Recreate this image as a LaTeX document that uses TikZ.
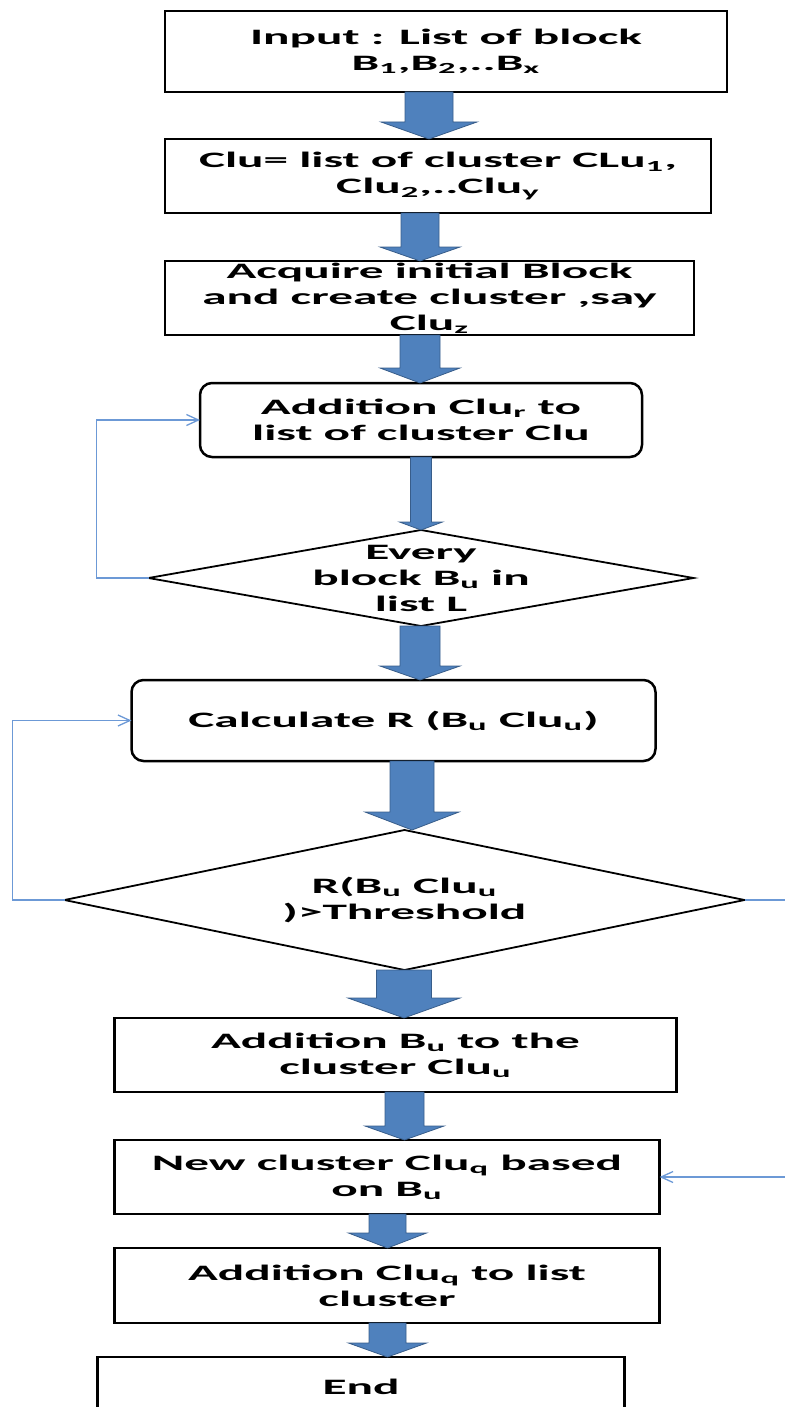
\documentclass[tikz,border=0pt]{standalone}
\usepackage{fontspec}
\setmainfont{Carlito}
\usepackage{graphicx}
\usetikzlibrary{positioning,shapes.geometric,calc,arrows.meta}

\definecolor{flowblue}{RGB}{79,129,189}
\definecolor{flowedge}{RGB}{56,93,138}
\definecolor{backblue}{RGB}{108,153,214}

\newcommand{\flowfont}{\fontsize{22}{26}\selectfont\bfseries}
\newcommand{\wide}[1]{\scalebox{2.24}[1]{#1}}

\begin{document}
\begin{tikzpicture}[x=1pt, y=-1pt,
  box/.style={draw, rectangle, line width=2.5pt, inner sep=0pt, outer sep=0pt, align=center, font=\flowfont},
  roundbox/.style={box, rounded corners=12pt},
  decision/.style={draw, diamond, line width=1.8pt, inner sep=0pt, outer sep=0pt},
  every label/.style={align=center, font=\flowfont},
  flow/.style={fill=flowblue, draw=flowedge, line width=0.8pt},
  back/.style={draw=backblue, line width=1.3pt, -{Straight Barb[length=12pt, width=11pt]}}]
  \useasboundingbox (0,0) rectangle (784,1407);

  \node[box, minimum width=562pt, minimum height=81pt] (input) at (446,51.5) {\wide{Input : List of block}\\\wide{B\textsubscript{1},B\textsubscript{2},..B\textsubscript{x}}};
  \node[box, minimum width=546pt, minimum height=74pt, below=47pt of input, xshift=-8pt] (clu) {\wide{Clu= list of cluster CLu\textsubscript{1},}\\\wide{Clu\textsubscript{2},..Clu\textsubscript{y}}};
  \node[box, minimum width=529pt, minimum height=74pt, below=48pt of clu, xshift=-8.5pt] (acq) {\wide{Acquire initial Block}\\\wide{and create cluster ,say}\\\wide{Clu\textsubscript{z}}};
  \node[roundbox, minimum width=442pt, minimum height=74pt, below=48pt of acq, xshift=-8.5pt] (addr) {\wide{Addition Clu\textsubscript{r} to}\\\wide{list of cluster Clu}};
  \node[decision, minimum width=545pt, minimum height=96pt, below=73pt of addr,
        label={center:\wide{Every}\\\wide{block B\textsubscript{u} in}\\\wide{list L}}] (every) {};
  \node[roundbox, minimum width=524pt, minimum height=81pt, below=54pt of every, xshift=-27.5pt] (calc) {\wide{Calculate R (B\textsubscript{u} Clu\textsubscript{u})}};
  \node[decision, minimum width=680pt, minimum height=140pt, below=69pt of calc, xshift=11pt,
        label={center:\wide{R(B\textsubscript{u} Clu\textsubscript{u}}\\\wide{)>Threshold}}] (thresh) {};
  \node[box, minimum width=562pt, minimum height=74pt, below=48pt of thresh, xshift=-9pt] (addb) {\wide{Addition B\textsubscript{u} to the}\\\wide{cluster Clu\textsubscript{u}}};
  \node[box, minimum width=545pt, minimum height=74pt, below=48pt of addb, xshift=-8.5pt] (newclu) {\wide{New cluster Clu\textsubscript{q} based}\\\wide{on B\textsubscript{u}}};
  \node[box, minimum width=545pt, minimum height=75pt, below=34pt of newclu] (addq) {\wide{Addition Clu\textsubscript{q} to list}\\\wide{cluster}};
  \node[box, minimum width=527pt, minimum height=60pt, below=34pt of addq, xshift=-26pt] (stop) {\wide{End}};

  % block arrows: from/to/x/shaft/head/head length
  \foreach \fa/\fb/\ax/\sw/\hw/\hl in {input/clu/429/24/48/17, clu/acq/420/19/40/14,
      acq/addr/420/20/40/15, addr/every/421/10.5/21.5/8, every/calc/420/20/40/14,
      calc/thresh/412/22/47/18, thresh/addb/404/27.5/56/20, addb/newclu/404.5/19.5/39.5/14,
      newclu/addq/387.5/18.5/39/15, addq/stop/387.5/18.5/39/14}
    \filldraw[flow] let \p1=(\fa.south), \p2=(\fb.north) in
      (\ax pt-\sw pt,\y1) -- (\ax pt+\sw pt,\y1) -- (\ax pt+\sw pt,\y2+\hl pt)
      -- (\ax pt+\hw pt,\y2+\hl pt) -- (\ax pt,\y2) -- (\ax pt-\hw pt,\y2+\hl pt)
      -- (\ax pt-\sw pt,\y2+\hl pt) -- cycle;

  % loops back
  \draw[back] (every.west) -- ++(-52pt,0) |- (addr.west);
  \draw[back] (thresh.west) -- ++(-52pt,0) |- (calc.west);
  \draw[back] (thresh.east) -- ++(80pt,0) |- (newclu.east);
\end{tikzpicture}
\end{document}
